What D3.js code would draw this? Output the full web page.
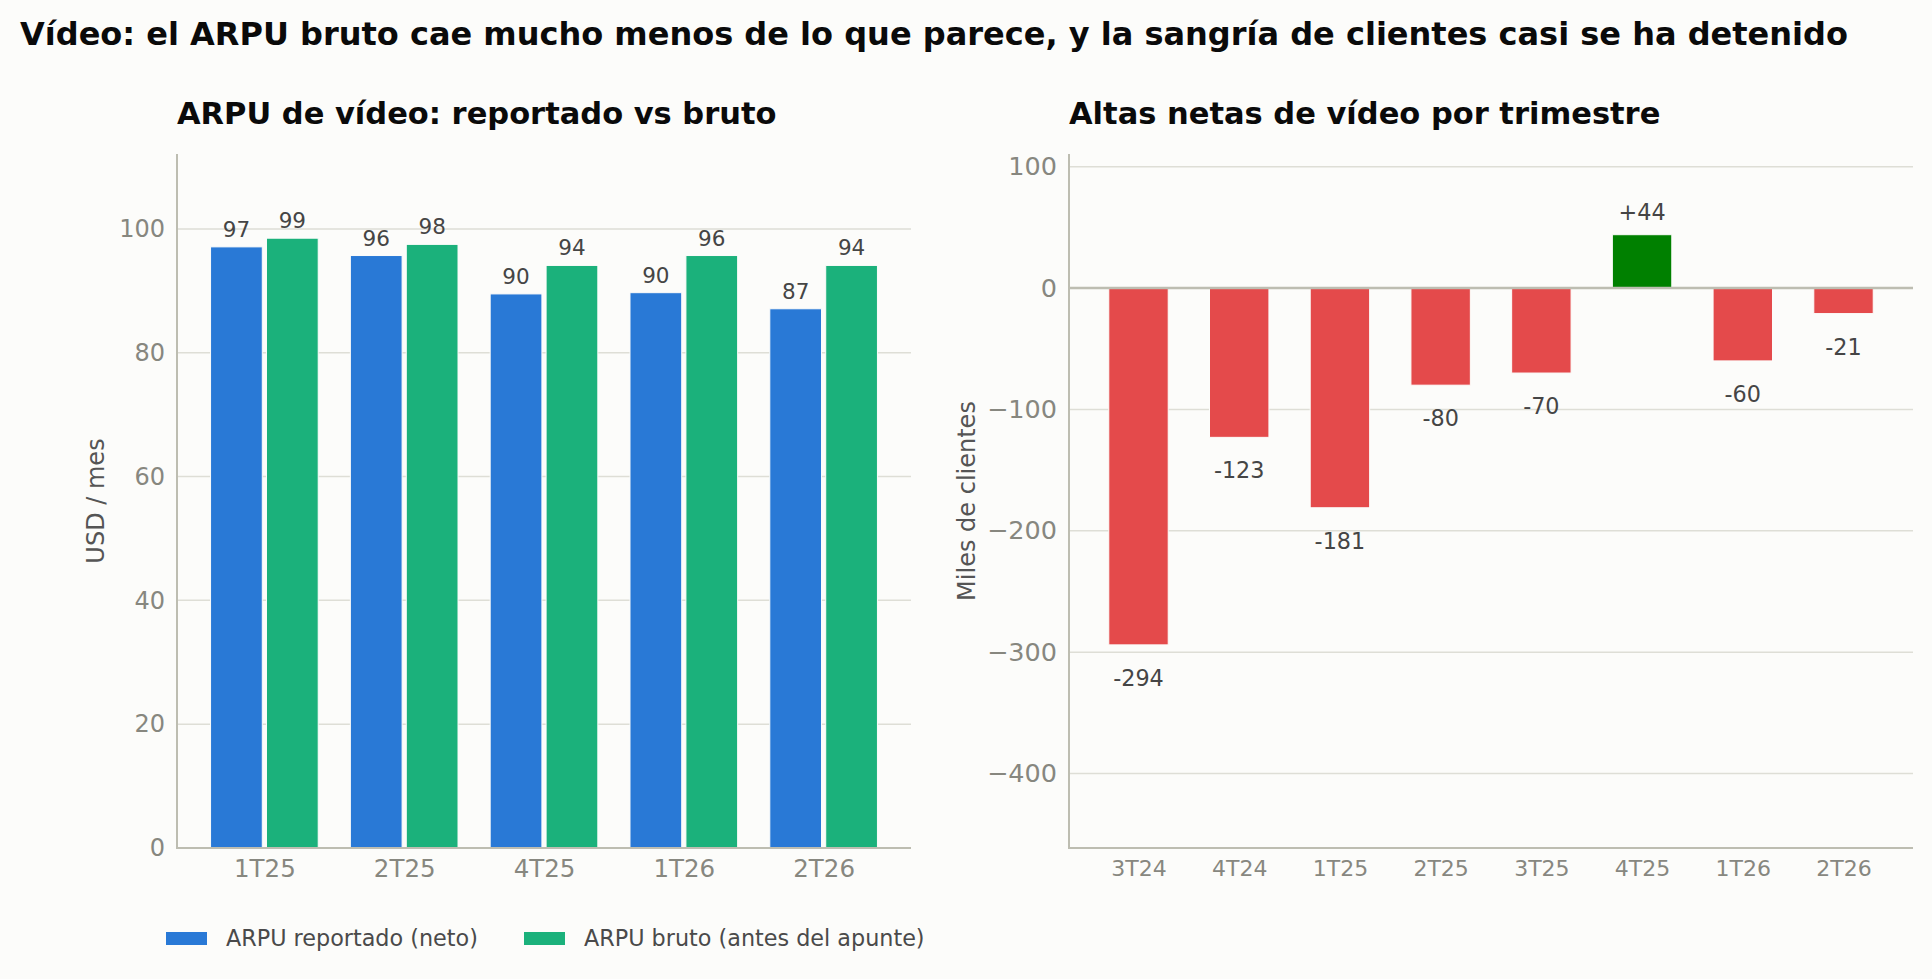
<!DOCTYPE html>
<html>
<head>
<meta charset="utf-8">
<script src="https://cdn.jsdelivr.net/npm/d3@7"></script>
<style>
  body { margin: 0; background: #fcfcfa; }
  svg { display: block; font-family: "DejaVu Sans", sans-serif; }
</style>
</head>
<body>
<svg id="chart" width="1932" height="979"></svg>
<script>
// ARPU panel
const ARPU_QUARTERS = ['1T25', '2T25', '4T25', '1T26', '2T26'];
const ARPU_REPORTED = [97.1, 95.7, 89.5, 89.7, 87.1];
const ARPU_GROSS = [98.5, 97.5, 94.1, 95.7, 94.1];
const ARPU_TICKS = [0, 20, 40, 60, 80, 100];

// net adds panel
const ADDS_QUARTERS = ['3T24', '4T24', '1T25', '2T25', '3T25', '4T25', '1T26', '2T26'];
const ADDS_VALUES = [-294, -123, -181, -80, -70, 44, -60, -21];
const ADDS_TICKS = [100, 0, -100, -200, -300, -400];

const BLUE = '#2979d6';
const GREEN = '#1bb17b';
const RED = '#e44a4b';
const POS = '#008000';
const SPINE = '#bdbdb1';
const GRID = '#deded6';
const TICK_TXT = '#87877f';
const LABEL_TXT = '#454545';

const svg = d3.select('#chart');
svg.append('rect').attr('width', 1932).attr('height', 979).attr('fill', '#fcfcfa');

svg.append('text')
  .attr('x', 20).attr('y', 45)
  .attr('font-size', 32).attr('font-weight', 'bold').attr('fill', '#0a0a0a')
  .text('Vídeo: el ARPU bruto cae mucho menos de lo que parece, y la sangría de clientes casi se ha detenido');

function renderArpu() {
  const L = 177, R = 911, T = 154, B = 848;
  const x = d3.scaleLinear().domain([-0.625, 4.625]).range([L, R]);
  const y = d3.scaleLinear().domain([0, 112.1]).range([B, T]);
  const g = svg.append('g');

  g.append('text').attr('x', L).attr('y', 124)
    .attr('font-size', 30.5).attr('font-weight', 'bold').attr('fill', '#0a0a0a')
    .text('ARPU de vídeo: reportado vs bruto');

  g.append('g').selectAll('line').data(ARPU_TICKS.filter(d => d > 0))
    .enter().append('line')
    .attr('x1', L).attr('x2', R)
    .attr('y1', d => y(d)).attr('y2', d => y(d))
    .attr('stroke', GRID).attr('stroke-width', 1.5);

  const series = [
    { vals: ARPU_REPORTED, off: -0.2, color: BLUE },
    { vals: ARPU_GROSS, off: 0.2, color: GREEN }
  ];
  const w = 0.37;
  series.forEach(s => {
    g.append('g').selectAll('rect').data(s.vals)
      .enter().append('rect')
      .attr('x', (d, i) => x(i + s.off - w / 2))
      .attr('width', x(w) - x(0))
      .attr('y', d => y(d))
      .attr('height', d => y(0) - y(d))
      .attr('fill', s.color)
      .attr('stroke', '#fcfcfa').attr('stroke-width', 1);
    g.append('g').selectAll('text').data(s.vals)
      .enter().append('text')
      .attr('x', (d, i) => x(i + s.off))
      .attr('y', d => y(d) - 10)
      .attr('text-anchor', 'middle')
      .attr('font-size', 21.5).attr('fill', LABEL_TXT)
      .text(d => Math.round(d));
  });

  // axes
  const yAxis = g.append('g').attr('transform', `translate(${L},0)`)
    .call(d3.axisLeft(y).tickValues(ARPU_TICKS).tickSize(0).tickPadding(12));
  yAxis.select('.domain').remove();
  yAxis.selectAll('text').attr('font-size', 24).attr('fill', TICK_TXT).attr('font-family', 'DejaVu Sans');

  const xAxis = g.append('g').attr('transform', `translate(0,${B})`)
    .call(d3.axisBottom(x).tickValues(d3.range(ARPU_QUARTERS.length))
      .tickFormat(i => ARPU_QUARTERS[i]).tickSize(0).tickPadding(12));
  xAxis.select('.domain').remove();
  xAxis.selectAll('text').attr('font-size', 24.5).attr('fill', TICK_TXT).attr('font-family', 'DejaVu Sans');

  g.append('line').attr('x1', L).attr('x2', L).attr('y1', T).attr('y2', B + 1)
    .attr('stroke', SPINE).attr('stroke-width', 2);
  g.append('line').attr('x1', L - 1).attr('x2', R).attr('y1', B).attr('y2', B)
    .attr('stroke', SPINE).attr('stroke-width', 2);

  g.append('text')
    .attr('transform', `translate(104,${(T + B) / 2}) rotate(-90)`)
    .attr('text-anchor', 'middle')
    .attr('font-size', 24).attr('fill', '#555')
    .text('USD / mes');

  // legend
  const legend = [
    { label: 'ARPU reportado (neto)', color: BLUE, x: 166 },
    { label: 'ARPU bruto (antes del apunte)', color: GREEN, x: 524 }
  ];
  const lg = g.append('g').selectAll('g').data(legend).enter().append('g')
    .attr('transform', d => `translate(${d.x},932)`);
  lg.append('rect').attr('width', 41).attr('height', 13).attr('fill', d => d.color);
  lg.append('text').attr('x', 60).attr('y', 14)
    .attr('font-size', 22.3).attr('fill', '#4a4a4a')
    .text(d => d.label);
}

function renderAdds() {
  const L = 1069, R = 1913, T = 154, B = 848;
  const x = d3.scaleLinear().domain([-0.69, 7.69]).range([L, R]);
  const y = d3.scaleLinear().domain([-461.4, 110.5]).range([B, T]);
  const g = svg.append('g');

  g.append('text').attr('x', L).attr('y', 124)
    .attr('font-size', 30.5).attr('font-weight', 'bold').attr('fill', '#0a0a0a')
    .text('Altas netas de vídeo por trimestre');

  g.append('g').selectAll('line').data(ADDS_TICKS.filter(d => d !== 0))
    .enter().append('line')
    .attr('x1', L).attr('x2', R)
    .attr('y1', d => y(d)).attr('y2', d => y(d))
    .attr('stroke', GRID).attr('stroke-width', 1.5);

  const w = 0.59;
  g.append('g').selectAll('rect').data(ADDS_VALUES)
    .enter().append('rect')
    .attr('x', (d, i) => x(i - w / 2))
    .attr('width', x(w) - x(0))
    .attr('y', d => y(Math.max(0, d)))
    .attr('height', d => Math.abs(y(d) - y(0)))
    .attr('fill', d => d >= 0 ? POS : RED)
    .attr('stroke', '#fcfcfa').attr('stroke-width', 1);

  g.append('g').selectAll('text').data(ADDS_VALUES)
    .enter().append('text')
    .attr('x', (d, i) => x(i))
    .attr('y', d => d >= 0 ? y(d) - 15 : y(d) + 41)
    .attr('text-anchor', 'middle')
    .attr('font-size', 22.3).attr('fill', LABEL_TXT)
    .text(d => d >= 0 ? '+' + d : '-' + Math.abs(d));

  // zero line
  g.append('line').attr('x1', L).attr('x2', R).attr('y1', y(0)).attr('y2', y(0))
    .attr('stroke', SPINE).attr('stroke-width', 2.5);

  const yAxis = g.append('g').attr('transform', `translate(${L},0)`)
    .call(d3.axisLeft(y).tickValues(ADDS_TICKS).tickSize(0).tickPadding(12)
      .tickFormat(d => d < 0 ? '\u2212' + Math.abs(d) : d));
  yAxis.select('.domain').remove();
  yAxis.selectAll('text').attr('font-size', 25.5).attr('fill', TICK_TXT).attr('font-family', 'DejaVu Sans');

  const xAxis = g.append('g').attr('transform', `translate(0,${B})`)
    .call(d3.axisBottom(x).tickValues(d3.range(ADDS_QUARTERS.length))
      .tickFormat(i => ADDS_QUARTERS[i]).tickSize(0).tickPadding(12));
  xAxis.select('.domain').remove();
  xAxis.selectAll('text').attr('font-size', 22).attr('fill', TICK_TXT).attr('font-family', 'DejaVu Sans');

  g.append('line').attr('x1', L).attr('x2', L).attr('y1', T).attr('y2', B + 1)
    .attr('stroke', SPINE).attr('stroke-width', 2);
  g.append('line').attr('x1', L - 1).attr('x2', R).attr('y1', B).attr('y2', B)
    .attr('stroke', SPINE).attr('stroke-width', 2);

  g.append('text')
    .attr('transform', `translate(975,${(T + B) / 2}) rotate(-90)`)
    .attr('text-anchor', 'middle')
    .attr('font-size', 24).attr('fill', '#555')
    .text('Miles de clientes');
}

renderArpu();
renderAdds();
</script>
</body>
</html>
